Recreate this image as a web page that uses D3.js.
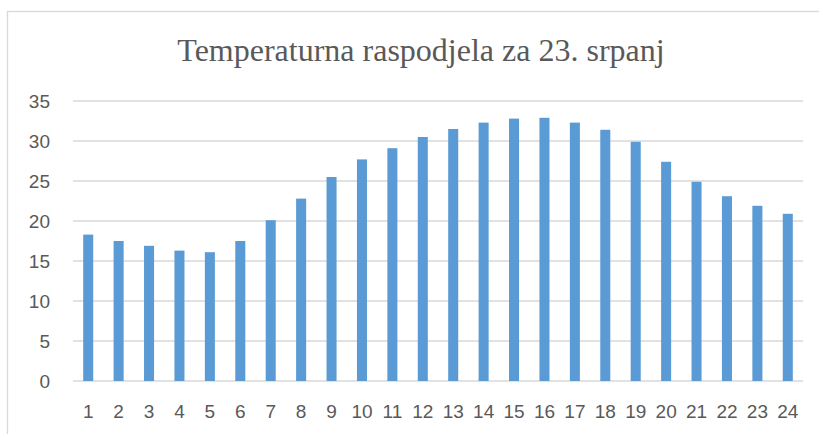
<!DOCTYPE html>
<html lang="hr">
<head>
<meta charset="utf-8">
<title>Temperaturna raspodjela</title>
<style>
  body { margin: 0; background: #fff; }
  .grid line { stroke: #d9d9d9; stroke-width: 1.3px; }
  .tick text { fill: #595959; font-family: "Liberation Sans Narrow", "Liberation Sans", sans-serif; font-size: 19px; }
</style>
</head>
<body>
<svg width="819" height="434"></svg>
<script src="https://d3js.org/d3.v7.min.js"></script>
<script>

var hours = ["1","2","3","4","5","6","7","8","9","10","11","12","13","14","15","16","17","18","19","20","21","22","23","24"];
var temps = [18.3, 17.5, 16.9, 16.3, 16.1, 17.5, 20.1, 22.8, 25.5, 27.7, 29.1, 30.5, 31.5, 32.3, 32.8, 32.9,
             32.3, 31.4, 29.9, 27.4, 24.9, 23.1, 21.9, 20.9];
var yTicks = [0, 5, 10, 15, 20, 25, 30, 35];
var title = "Temperaturna raspodjela za 23. srpanj";

var svg = d3.select("svg");

// chart frame
svg.append("rect")
    .attr("x", 7.5).attr("y", 11.5)
    .attr("width", 830).attr("height", 440)
    .attr("fill", "#fff")
    .attr("stroke", "#d9d9d9")
    .attr("stroke-width", 1.3);

var margin = {left: 73, right: 16, top: 101, bottom: 53};
var width = 819 - margin.left - margin.right,
    height = 434 - margin.top - margin.bottom;

var x = d3.scaleBand().domain(hours).range([0, width]).paddingInner(0.67).paddingOuter(0.335);
var y = d3.scaleLinear().domain([0, 35]).range([height, 0]);

var g = svg.append("g").attr("transform", "translate(" + margin.left + "," + margin.top + ")");

// gridlines
g.append("g").attr("class", "grid")
  .selectAll("line")
  .data(yTicks)
  .enter().append("line")
    .attr("x1", 0).attr("x2", width)
    .attr("y1", function(d) { return y(d); })
    .attr("y2", function(d) { return y(d); });

// bars
g.append("g")
  .selectAll("rect")
  .data(temps)
  .enter().append("rect")
    .attr("x", function(d, i) { return x(hours[i]); })
    .attr("y", function(d) { return y(d); })
    .attr("width", x.bandwidth())
    .attr("height", function(d) { return height - y(d); })
    .attr("fill", "#5b9bd5");

// y axis labels
var yAxis = g.append("g")
    .call(d3.axisLeft(y).tickValues(yTicks).tickSize(0).tickPadding(23));
yAxis.select(".domain").remove();

// x axis labels
var xAxis = g.append("g")
    .attr("transform", "translate(0," + height + ")")
    .call(d3.axisBottom(x).tickSize(0).tickPadding(24));
xAxis.select(".domain").remove();

// title
svg.append("text")
    .attr("x", 421).attr("y", 61)
    .attr("text-anchor", "middle")
    .attr("fill", "#595959")
    .style("font-family", "'Liberation Serif', 'Times New Roman', serif")
    .style("font-size", "32px")
    .text(title);

</script>
</body>
</html>
